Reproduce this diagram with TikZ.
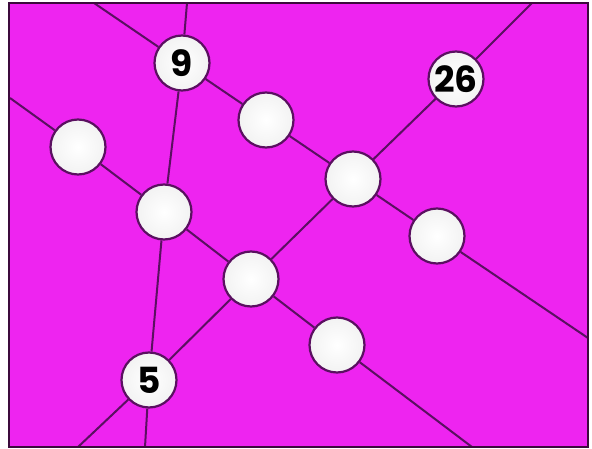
\documentclass[tikz,border=0pt]{standalone}
\usepackage{fontspec}
\newfontfamily\numfont{Poppins}
\definecolor{bgmag}{RGB}{238,36,240}
\definecolor{linecol}{RGB}{90,16,96}
\definecolor{framecol}{RGB}{60,10,60}
\tikzset{
  ball/.style={circle, minimum size=55pt, inner sep=0pt, draw=linecol, line width=2.2pt,
    inner color=white, outer color=gray!10, font=\numfont\bfseries\fontsize{36}{36}\selectfont},
  wire/.style={draw=linecol, line width=2pt}
}
\begin{document}
\begin{tikzpicture}[x=1pt,y=-1pt]
\useasboundingbox (0,0) rectangle (592,449);
\fill[white] (0,0) rectangle (592,449);
\fill[bgmag] (9,3) rectangle (588,447);
% border coordinates
\coordinate (aL) at (10,98);
\coordinate (aB) at (472,447);
\coordinate (bT) at (94,3);
\coordinate (bR) at (588,338);
\coordinate (cT) at (187,3);
\coordinate (cB) at (145,447);
\coordinate (dB) at (78,447);
\coordinate (dT) at (532,3);
% balls
\node[ball] (n9) at (182,63) {9};
\node[ball] (n26) at (456,79) {26};
\node[ball] (l1) at (78,147) {};
\node[ball] (u1) at (266,120) {};
\node[ball] (m1) at (164,212) {};
\node[ball] (c1) at (353,179) {};
\node[ball] (r1) at (437,236) {};
\node[ball] (x1) at (251,279) {};
\node[ball] (b1) at (337,345) {};
\node[ball] (n5) at (149,380) {5};
% line A
\draw[wire] (aL) -- (l1) -- (m1) -- (x1) -- (b1) -- (aB);
% line B
\draw[wire] (bT) -- (n9) -- (u1) -- (c1) -- (r1) -- (bR);
% line C
\draw[wire] (cT) -- (n9) -- (m1) -- (n5) -- (cB);
% line D
\draw[wire] (dB) -- (n5) -- (x1) -- (c1) -- (n26) -- (dT);
\draw[framecol, line width=2.2pt] (9,3) rectangle (588,447);
\end{tikzpicture}
\end{document}
